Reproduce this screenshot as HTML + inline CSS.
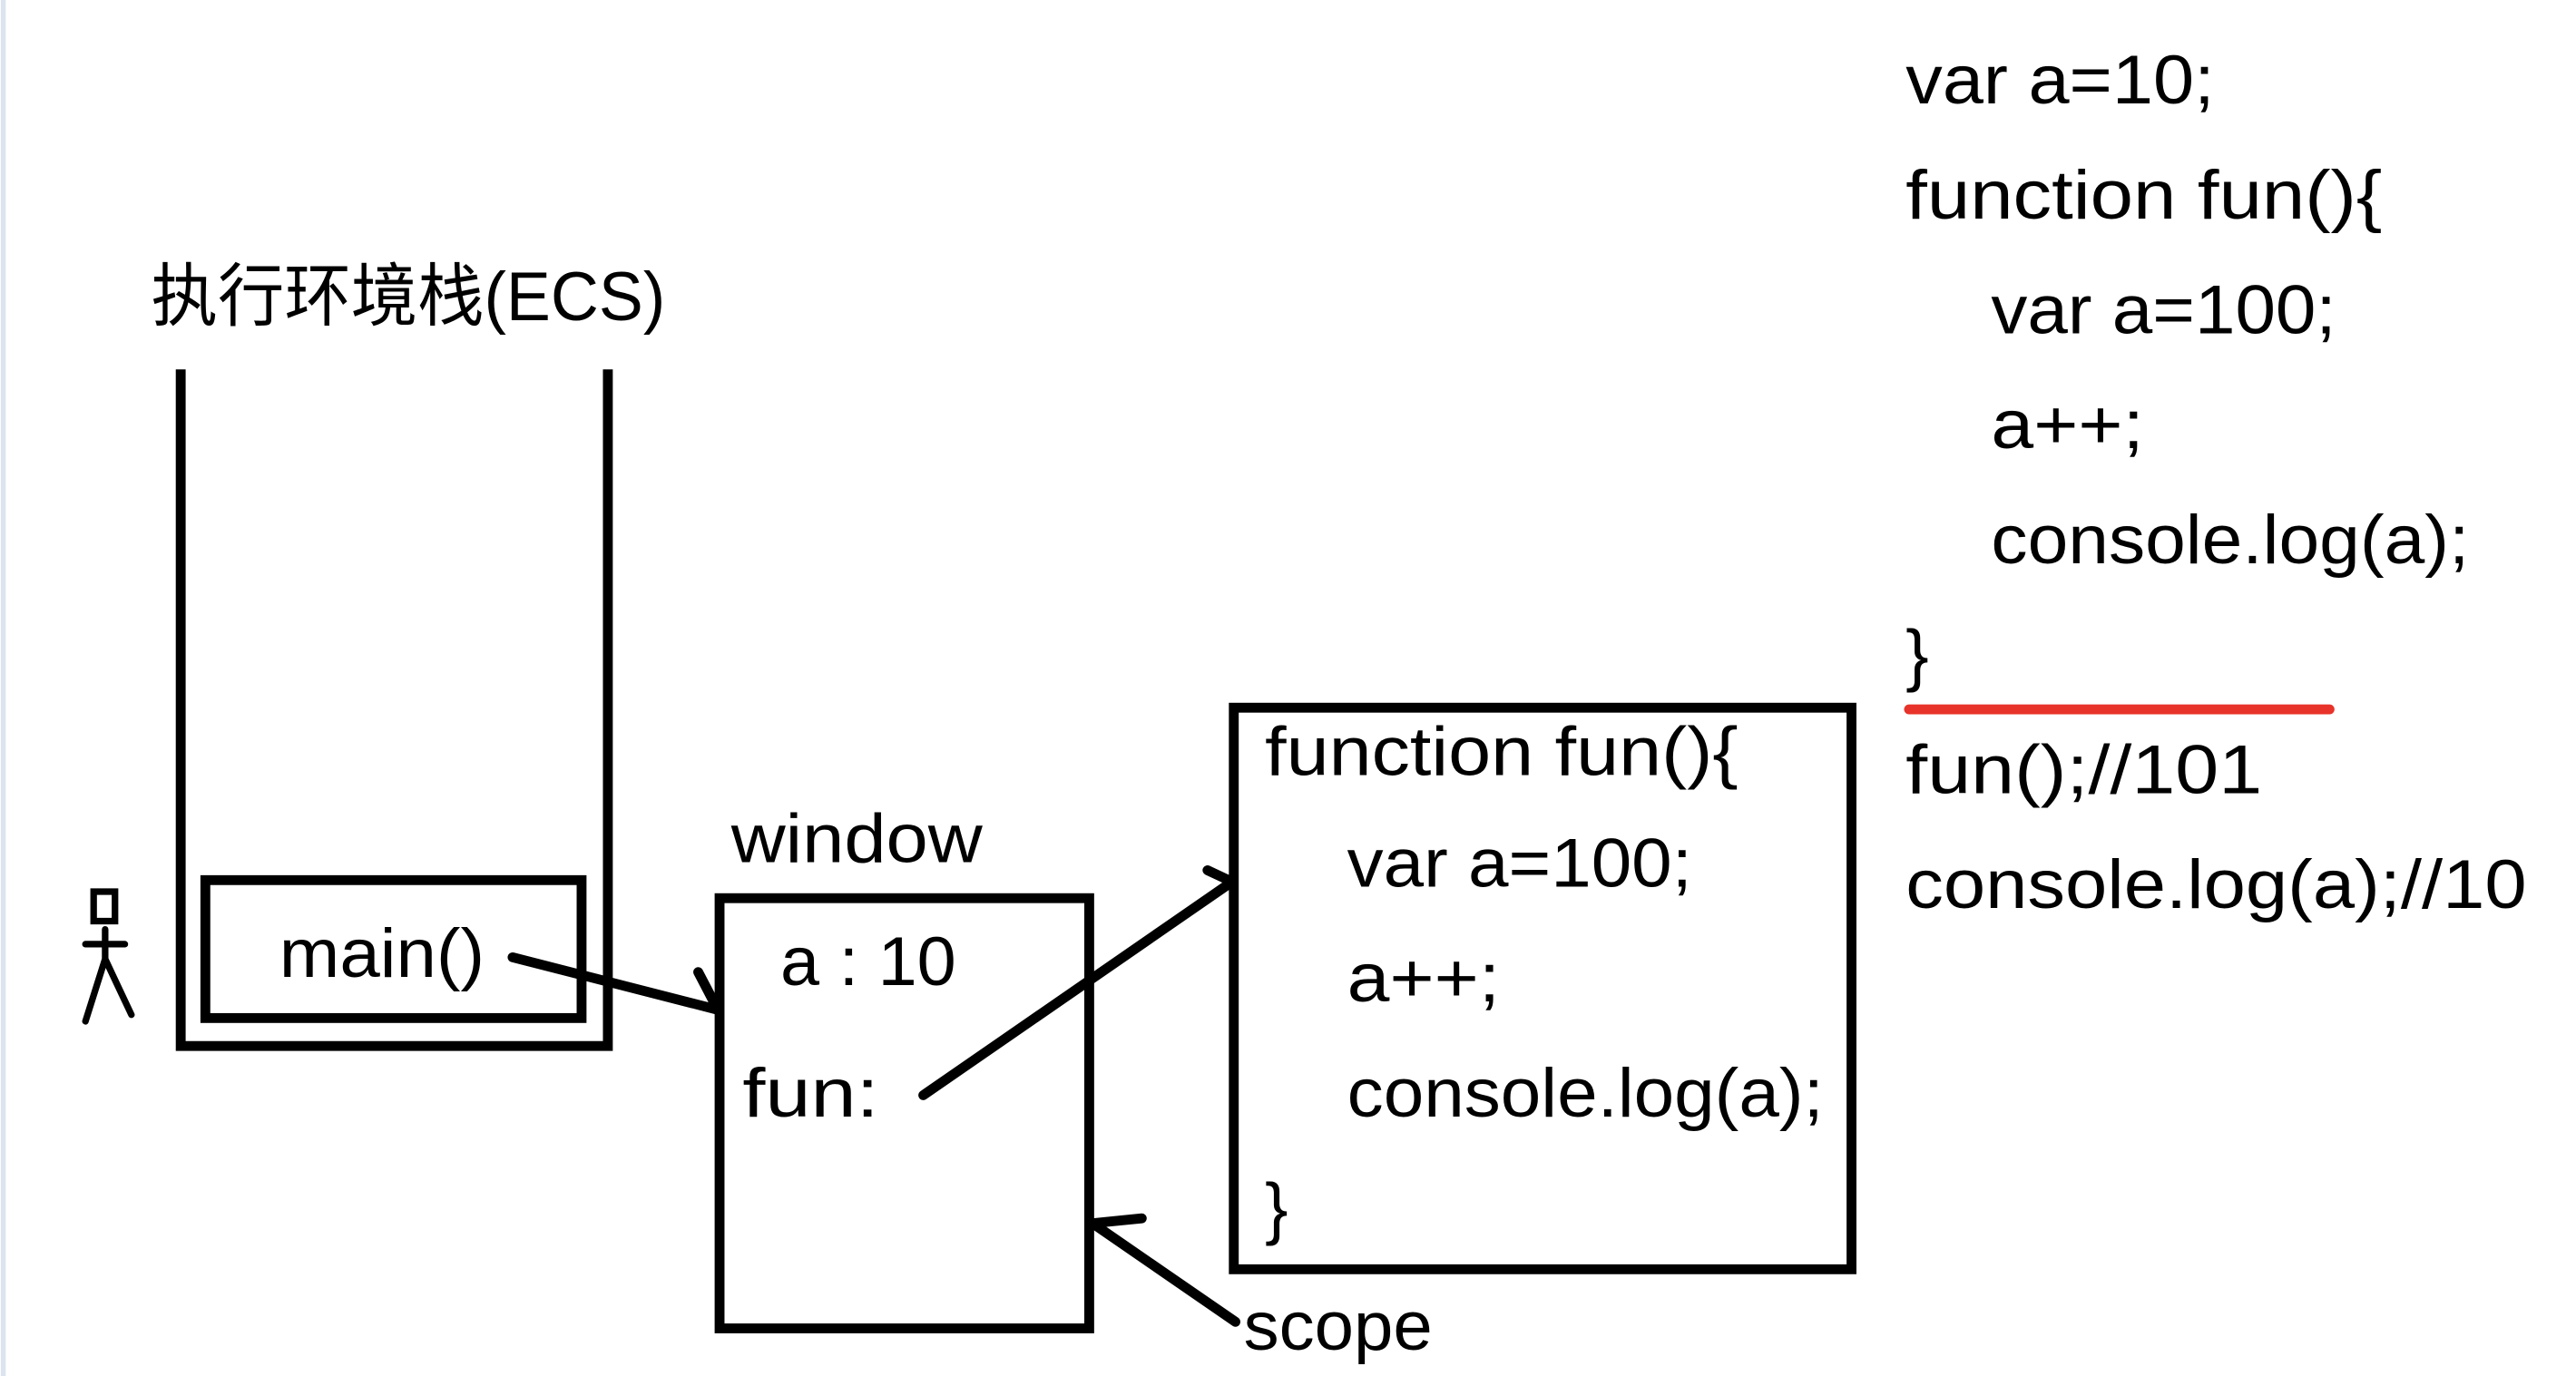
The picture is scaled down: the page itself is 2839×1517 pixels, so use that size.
<!DOCTYPE html>
<html><head><meta charset="utf-8"><style>
html,body{margin:0;padding:0;background:#fff;}
svg{display:block;}
text{font-family:"Liberation Sans","Noto Sans CJK SC",sans-serif;fill:#000;}
</style></head><body>
<svg width="2839" height="1517" viewBox="0 0 1568 838" preserveAspectRatio="none" xmlns="http://www.w3.org/2000/svg">
<rect width="1568" height="838" fill="#fff"/>
<line x1="2" y1="0" x2="2" y2="838" stroke="#dde3f0" stroke-width="3"/>
<g font-size="42">
<text x="92" y="195" textLength="313" lengthAdjust="spacingAndGlyphs">执行环境栈(ECS)</text>
<text x="170" y="595" textLength="125" lengthAdjust="spacingAndGlyphs">main()</text>
<text x="445" y="525" textLength="153" lengthAdjust="spacingAndGlyphs">window</text>
<text x="475" y="600" textLength="107" lengthAdjust="spacingAndGlyphs">a : 10</text>
<text x="452" y="680" textLength="83" lengthAdjust="spacingAndGlyphs">fun:</text>
<text x="770" y="472" textLength="288" lengthAdjust="spacingAndGlyphs">function fun(){</text>
<text x="820" y="540" textLength="210" lengthAdjust="spacingAndGlyphs">var a=100;</text>
<text x="820" y="610" textLength="93" lengthAdjust="spacingAndGlyphs">a++;</text>
<text x="820" y="680" textLength="290" lengthAdjust="spacingAndGlyphs">console.log(a);</text>
<text x="770" y="750">}</text>
<text x="757" y="822" textLength="115" lengthAdjust="spacingAndGlyphs">scope</text>
<text x="1160" y="63" textLength="188" lengthAdjust="spacingAndGlyphs">var a=10;</text>
<text x="1160" y="133" textLength="290" lengthAdjust="spacingAndGlyphs">function fun(){</text>
<text x="1212" y="203" textLength="210" lengthAdjust="spacingAndGlyphs">var a=100;</text>
<text x="1212" y="273" textLength="93" lengthAdjust="spacingAndGlyphs">a++;</text>
<text x="1212" y="343" textLength="291" lengthAdjust="spacingAndGlyphs">console.log(a);</text>
<text x="1160" y="413">}</text>
<text x="1160" y="483" textLength="217" lengthAdjust="spacingAndGlyphs">fun();//101</text>
<text x="1160" y="553" textLength="378" lengthAdjust="spacingAndGlyphs">console.log(a);//10</text>
</g>
<line x1="1162" y1="432" x2="1418" y2="432" stroke="#e8332a" stroke-width="6" stroke-linecap="round"/>
<g fill="none" stroke="#000" stroke-width="6">
<path d="M110 225 V637 H370 V225"/>
<rect x="125" y="536" width="229" height="84"/>
<rect x="438" y="547" width="225" height="262"/>
<rect x="751" y="431" width="376" height="342"/>
<g stroke-linecap="round">
<path d="M312 583 L437 615 M425 592 L437 615"/>
<path d="M562 667 L750 537 M735 530 L750 537"/>
<path d="M752 805 L665 745 M695 742 L665 745"/>
</g>
<g stroke-width="4" stroke-linecap="round">
<path d="M57 543 h13 v18 h-13 z"/>
<path d="M64 566 v10 M52 575 h24 M64 576 v8 M64 584 L52 622 M64 584 L80 618"/>
</g>
</g>
</svg>
</body></html>
